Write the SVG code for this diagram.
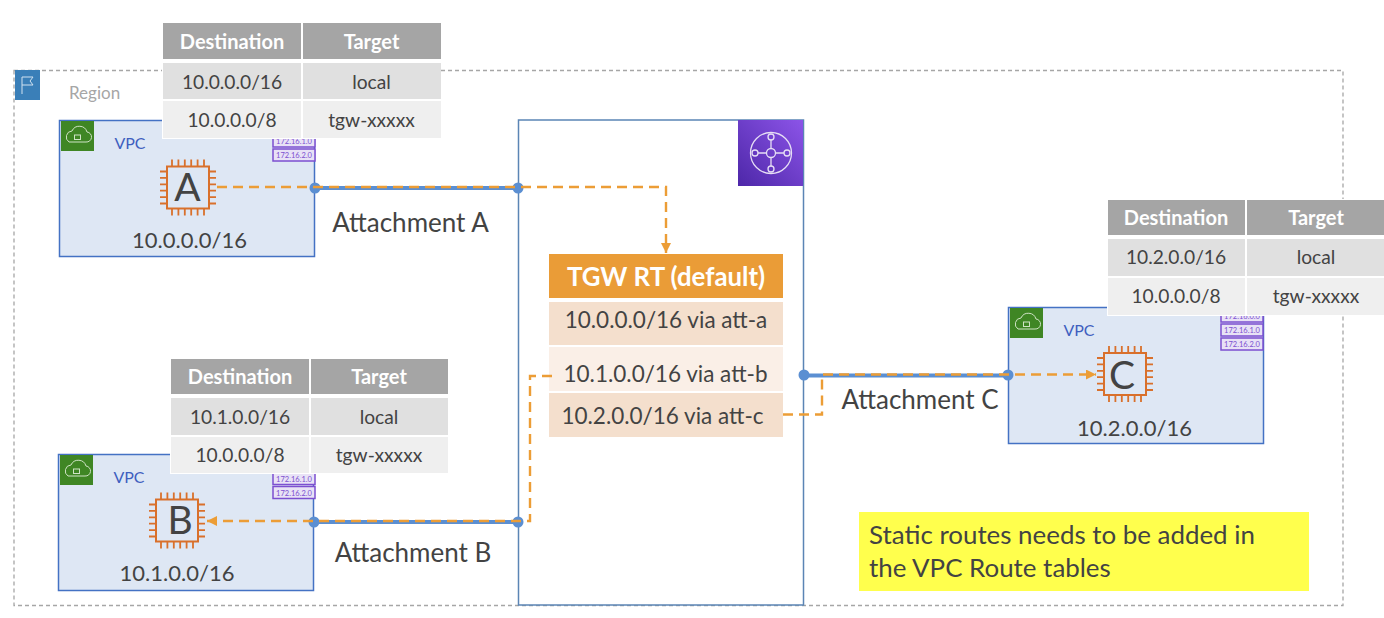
<svg xmlns="http://www.w3.org/2000/svg" width="1384" height="618" viewBox="0 0 1384 618">
<defs>
<marker id="ah" markerUnits="userSpaceOnUse" markerWidth="11" markerHeight="10" refX="10" refY="5" orient="auto"><path d="M0 0L10 5L0 10Z" fill="#ec9d36"/></marker>
<linearGradient id="tg" x1="0" y1="1" x2="1" y2="0"><stop offset="0" stop-color="#4d27a8"/><stop offset="1" stop-color="#8c54e8"/></linearGradient>
<g id="chip"><rect x="-21" y="-21" width="42" height="42" fill="none" stroke="#d9702b" stroke-width="2"/>
<path d="M-28-16h7M-28-9.600h7M-28-3.200h7M-28 3.200h7M-28 9.600h7M-28 16h7M21-16h7M21-9.600h7M21-3.200h7M21 3.200h7M21 9.600h7M21 16h7M-16-28v7M-9.600-28v7M-3.200-28v7M3.200-28v7M9.600-28v7M16-28v7M-16 21v7M-9.600 21v7M-3.200 21v7M3.200 21v7M9.600 21v7M16 21v7" stroke="#d9702b" stroke-width="1.800" fill="none"/></g>
<g id="vpcbadge"><rect width="33" height="30" fill="#3f8624"/><path d="M8 21h17a5 5 0 0 0 1-10 8 8 0 0 0-15-1 6 6 0 0 0-3 11Z" fill="none" stroke="#cfe3c5" stroke-width="1"/><rect x="13.500" y="14" width="6" height="4.500" fill="none" stroke="#cfe3c5"/></g>
<g id="sub"><rect x="0" y="-28" width="42" height="12" fill="#e8e2f6" stroke="#7c4fd0" stroke-width="1.500"/><text x="21" y="-19" class="subt">172.16.0.0</text><rect x="0" y="-14" width="42" height="12" fill="#e8e2f6" stroke="#7c4fd0" stroke-width="1.500"/><text x="21" y="-5" class="subt">172.16.1.0</text><rect x="0" y="0" width="42" height="12" fill="#e8e2f6" stroke="#7c4fd0" stroke-width="1.500"/><text x="21" y="9" class="subt">172.16.2.0</text></g>
</defs>
<style>
text{font-family:"Lato","Liberation Sans",sans-serif;fill:#434343}
.m{text-anchor:middle}
.th{font-size:20px;font-weight:700;fill:#fff;text-anchor:middle}
.td{font-size:19.200px;text-anchor:middle}
.big{font-size:25.900px}
.lb{font-size:26px;text-anchor:middle}
.ip{font-size:22px;text-anchor:middle}
.rt{font-size:22.500px;text-anchor:middle}
.vpcl{font-size:16px;fill:#3f5fbf;text-anchor:middle}
.subt{font-size:7.500px;fill:#7c4fd0;text-anchor:middle}
.ch{font-size:39px;text-anchor:middle}
.box{fill:#dee7f4;stroke:#4472c4;stroke-width:1.500}
.h{fill:#a5a5a5}.c1{fill:#e0e0e0}.c2{fill:#efefef}
.dash{fill:none;stroke:#ec9d36;stroke-width:2.400;stroke-dasharray:10 6}
.att{fill:none;stroke:#5b8fd2;stroke-width:4}
.dot{fill:#5b8fd2}
</style>
<g id="region"><rect x="14" y="70.500" width="1329" height="535" fill="none" stroke="#a6a6a6" stroke-width="1.300" stroke-dasharray="4 3"/><rect x="15" y="70" width="25" height="30" fill="#3a7fb8"/><path d="M22 94V77h11l-3 4 3 4H22" fill="none" stroke="#d0e2f0" stroke-width="1"/><text x="69" y="99" font-size="17" style="fill:#a6a6a6">Region</text></g>
<g id="vpc-a"><rect class="box" x="59.500" y="120.500" width="255" height="136"/><use href="#vpcbadge" x="61" y="121"/><text class="vpcl" x="130" y="149">VPC</text><use href="#sub" x="273" y="149"/><use href="#chip" x="188" y="187.500"/><text x="187.500" y="201" class="ch">A</text><text class="ip" x="189.500" y="248">10.0.0.0/16</text></g>
<g id="table-a"><rect x="162" y="22" width="279" height="117" fill="#fff"/><rect class="h" x="163" y="23" width="138" height="36"/><rect class="h" x="303" y="23" width="138" height="36"/><rect class="c1" x="163" y="63" width="138" height="36"/><rect class="c1" x="303" y="63" width="138" height="36"/><rect class="c2" x="163" y="101" width="138" height="37"/><rect class="c2" x="303" y="101" width="138" height="37"/><text class="th" x="232" y="48.500">Destination</text><text class="th" x="371.500" y="48.500">Target</text><text class="td" x="232" y="88.500">10.0.0.0/16</text><text class="td" x="371.500" y="88.500">local</text><text class="td" x="232" y="126.500">10.0.0.0/8</text><text class="td" x="371.500" y="126.500">tgw-xxxxx</text></g>
<g id="vpc-b"><rect class="box" x="58.500" y="454.500" width="255" height="136"/><use href="#vpcbadge" x="60" y="455"/><text class="vpcl" x="129" y="483">VPC</text><use href="#sub" x="273" y="486.500"/><use href="#chip" x="177" y="520.500"/><text x="180" y="534" class="ch">B</text><text class="ip" x="177" y="581">10.1.0.0/16</text></g>
<g id="table-b"><rect x="170" y="358" width="279" height="116" fill="#fff"/><rect class="h" x="171" y="359" width="138" height="35"/><rect class="h" x="311" y="359" width="137" height="35"/><rect class="c1" x="171" y="398" width="138" height="37"/><rect class="c1" x="311" y="398" width="137" height="37"/><rect class="c2" x="171" y="437" width="138" height="36"/><rect class="c2" x="311" y="437" width="137" height="36"/><text class="th" x="240" y="384">Destination</text><text class="th" x="379" y="384">Target</text><text class="td" x="240" y="423.500">10.1.0.0/16</text><text class="td" x="379" y="423.500">local</text><text class="td" x="240" y="462">10.0.0.0/8</text><text class="td" x="379" y="462">tgw-xxxxx</text></g>
<g id="vpc-c"><rect class="box" x="1008.500" y="307.500" width="255" height="136"/><use href="#vpcbadge" x="1010" y="308"/><text class="vpcl" x="1079" y="336">VPC</text><use href="#sub" x="1221" y="338"/><use href="#chip" x="1125" y="374"/><text x="1122" y="389" class="ch">C</text><text class="ip" x="1134.500" y="436">10.2.0.0/16</text></g>
<g id="table-c"><rect x="1107" y="199" width="277" height="117" fill="#fff"/><rect class="h" x="1108" y="200" width="137" height="35"/><rect class="h" x="1247" y="200" width="137" height="35"/><rect class="c1" x="1108" y="239" width="137" height="37"/><rect class="c1" x="1247" y="239" width="137" height="37"/><rect class="c2" x="1108" y="278" width="137" height="37"/><rect class="c2" x="1247" y="278" width="137" height="37"/><text class="th" x="1176" y="225">Destination</text><text class="th" x="1316" y="225">Target</text><text class="td" x="1176" y="264">10.2.0.0/16</text><text class="td" x="1316" y="264">local</text><text class="td" x="1176" y="303">10.0.0.0/8</text><text class="td" x="1316" y="303">tgw-xxxxx</text></g>
<g id="tgw"><rect x="518.500" y="120" width="285" height="485" fill="#fff" stroke="#5b85b5" stroke-width="1.500"/><rect x="738" y="120" width="65" height="66" fill="url(#tg)"/><g fill="none" stroke="#e6def5" stroke-width="1.300"><circle cx="771" cy="153" r="20.500"/><circle cx="771" cy="153" r="4.500"/><circle cx="771" cy="137" r="3"/><circle cx="771" cy="169" r="3"/><circle cx="755" cy="153" r="3"/><circle cx="787" cy="153" r="3"/><path d="M771 140v8.500M771 157.500v8.500M758 153h8.500M775.500 153h8.500"/></g></g>
<g id="tgw-rt"><rect x="549" y="254" width="234" height="44" fill="#ea9c37"/><text x="666" y="285.500" font-size="25.800" font-weight="700" class="m" style="fill:#fff">TGW RT (default)</text><rect x="549" y="302" width="234" height="43" fill="#f4dfcd"/><text class="rt" x="666" y="327.500">10.0.0.0/16 via att-a</text><rect x="549" y="347" width="234" height="44" fill="#faefe7"/><text class="rt" x="665.500" y="381.500">10.1.0.0/16 via att-b</text><rect x="549" y="393" width="234" height="44" fill="#f4dfcd"/><text class="rt" x="662.500" y="423.500">10.2.0.0/16 via att-c</text></g>
<g id="connectors"><path class="att" d="M315 188H518"/><path class="att" d="M315 522H518"/><path class="att" d="M804 375.500H1008"/><circle class="dot" cx="315" cy="188" r="5.500"/><circle class="dot" cx="518" cy="188" r="5.500"/><circle class="dot" cx="314" cy="522" r="5.500"/><circle class="dot" cx="518" cy="522" r="5.500"/><circle class="dot" cx="804" cy="375" r="5.500"/><circle class="dot" cx="1008" cy="375" r="5.500"/>
<path class="dash" d="M217 187H666V253" marker-end="url(#ah)"/><path class="dash" d="M552 376H530V521H207" marker-end="url(#ah)"/><path class="dash" d="M783 414.500H822V374.500H1096" marker-end="url(#ah)"/></g>
<g id="labels"><text class="lb" x="410.500" y="231.500">Attachment A</text><text class="lb" x="413" y="561.500">Attachment B</text><text class="lb" x="920" y="408.500">Attachment C</text></g>
<g id="note"><rect x="859" y="512" width="450" height="79" fill="#ffff4d"/><text x="869" y="543.500" class="big">Static routes needs to be added in</text><text x="869" y="576.500" class="big">the VPC Route tables</text></g>
</svg>
